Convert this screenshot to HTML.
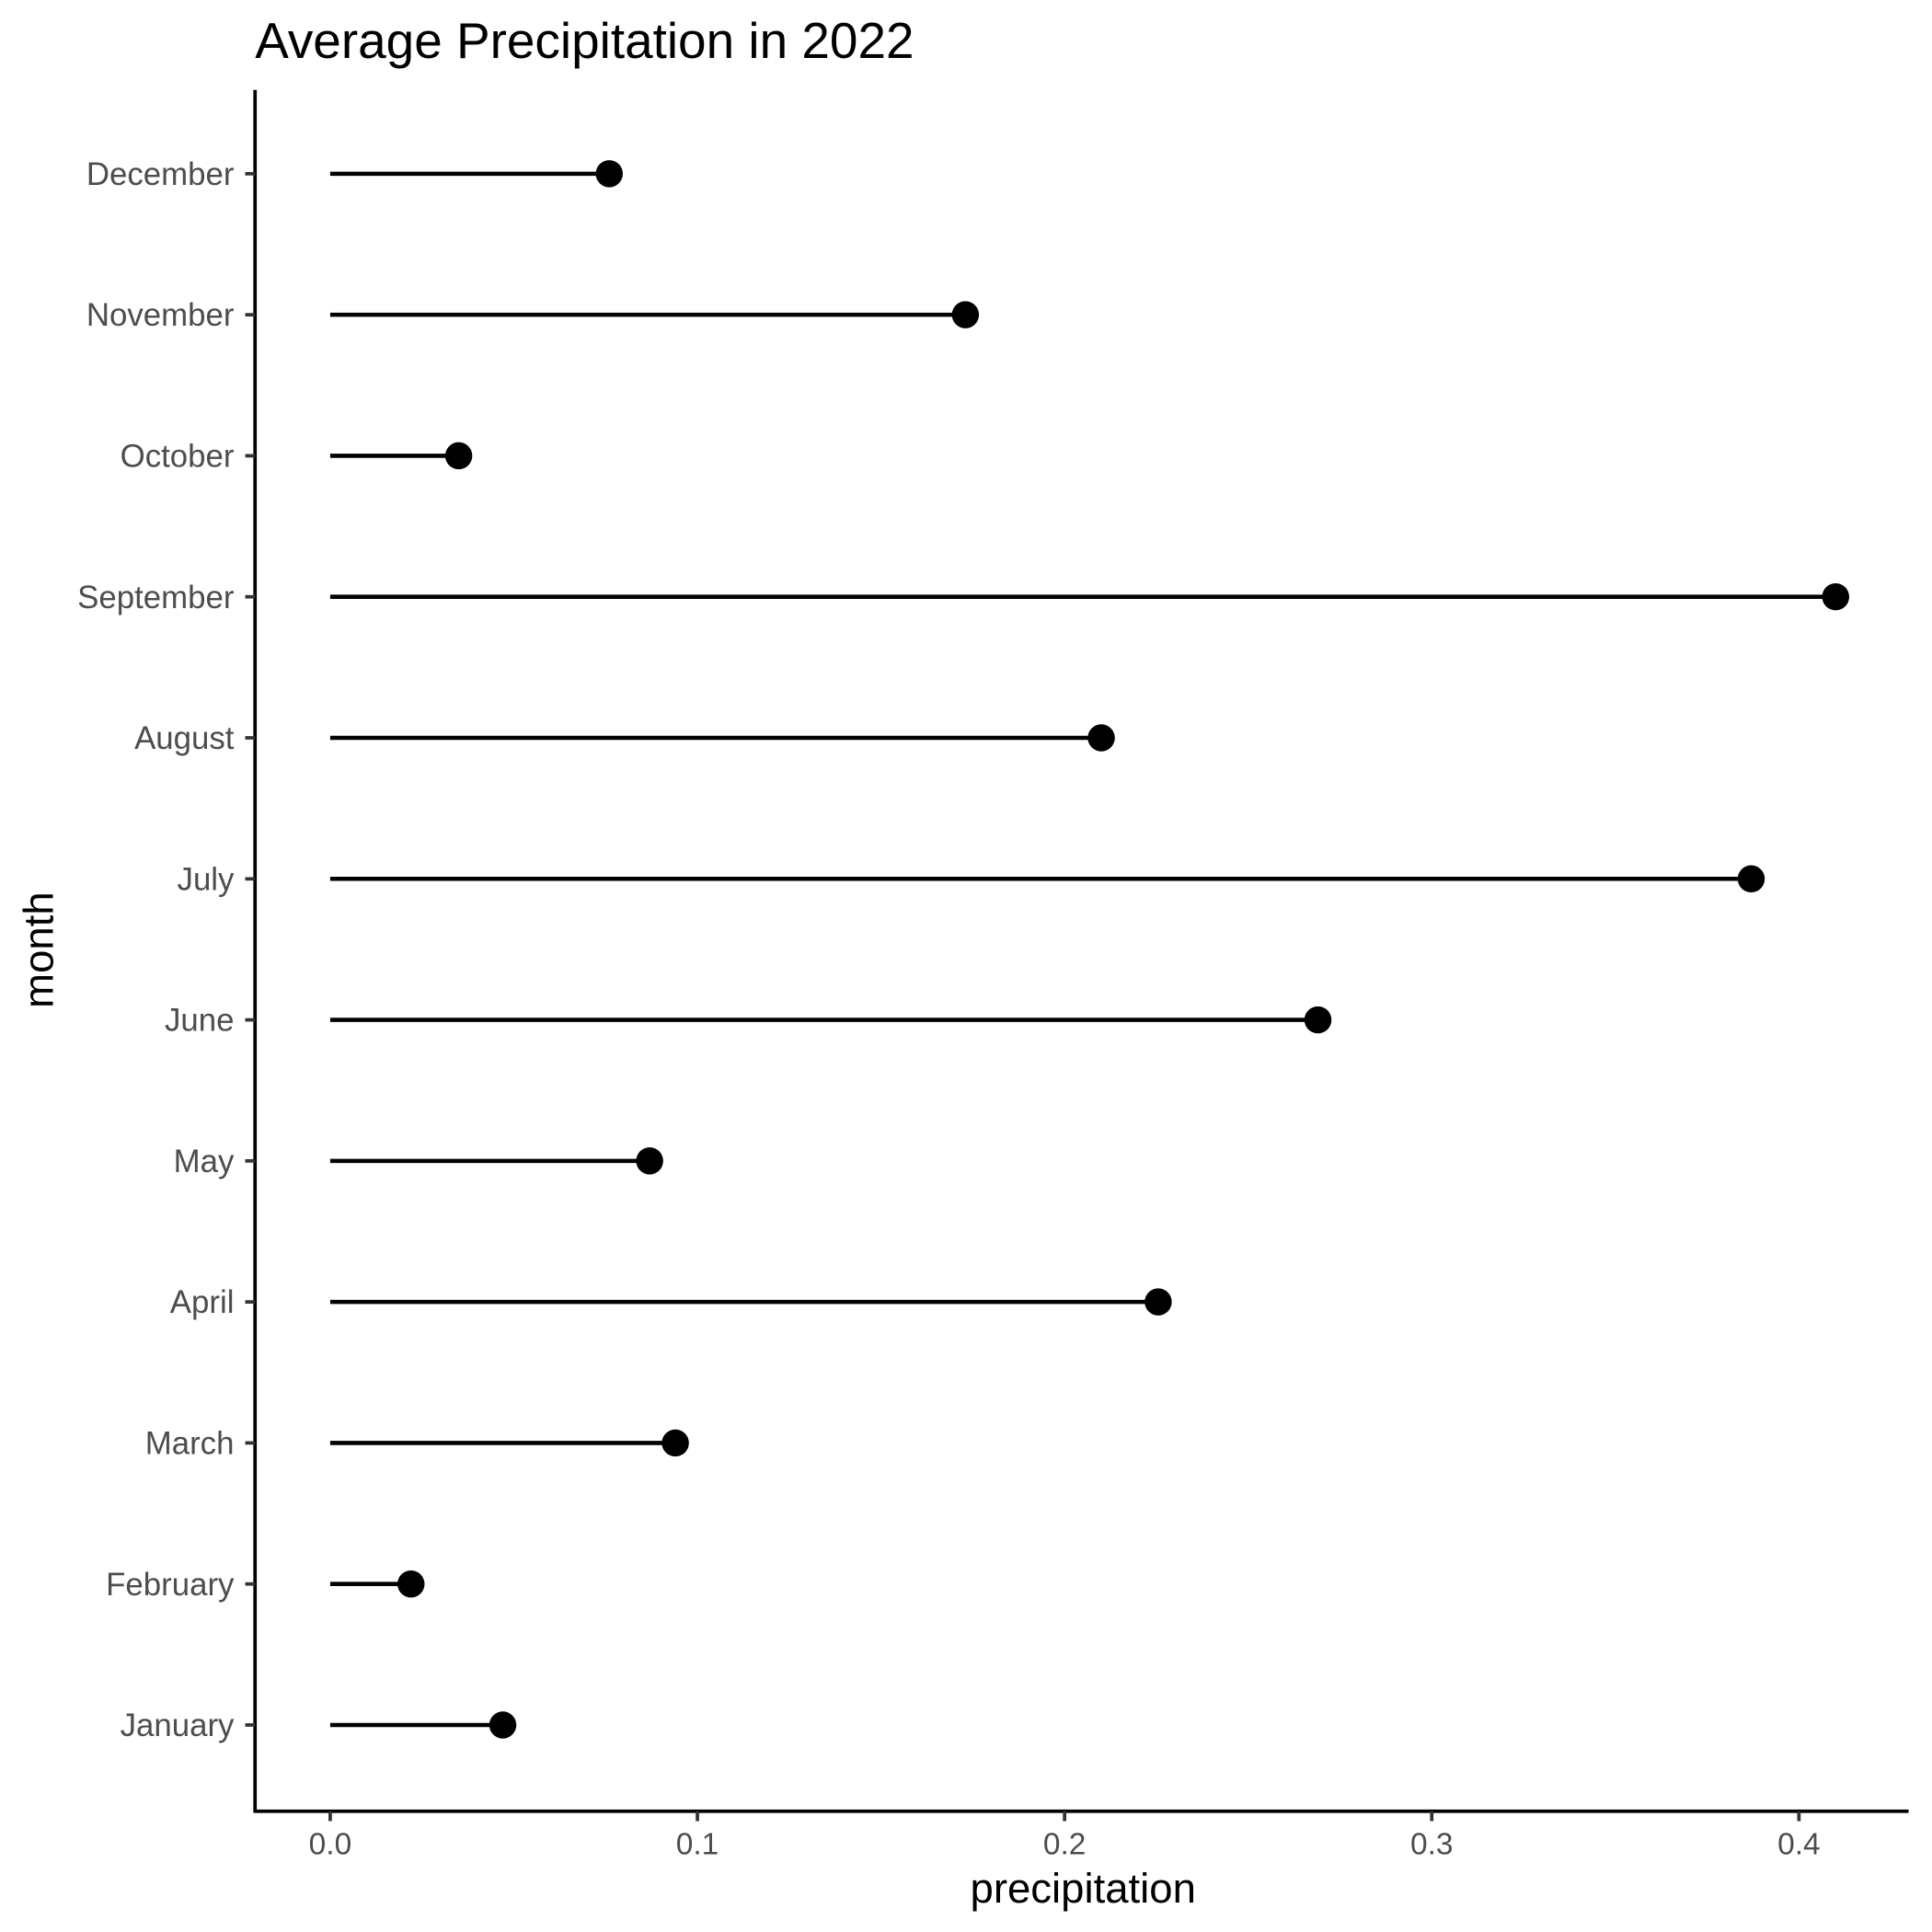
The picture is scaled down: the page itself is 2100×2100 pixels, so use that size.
<!DOCTYPE html>
<html><head><meta charset="utf-8"><style>
html,body{margin:0;padding:0;background:#fff;}
svg{display:block;font-family:"Liberation Sans",Arial,sans-serif;}
</style></head><body>
<svg id="chart" width="2100" height="2100" viewBox="0 0 1568 1568">
<rect width="1568" height="1568" fill="#fff"/>
<text x="207" y="47" font-size="41" fill="#000">Average Precipitation in 2022</text>
<line x1="207" y1="73" x2="207" y2="1471" stroke="#000" stroke-width="2.8"/>
<line x1="206" y1="1470" x2="1549" y2="1470" stroke="#000" stroke-width="2.8"/>
<text x="879" y="1544" font-size="34" text-anchor="middle" fill="#000">precipitation</text>
<text transform="translate(43,771) rotate(-90)" font-size="34" text-anchor="middle" fill="#000">month</text>
<g id="marks"></g>
</svg>
<script>
const months = ["January","February","March","April","May","June","July","August","September","October","November","December"];
const precip = [0.047,0.022,0.094,0.2255,0.087,0.269,0.387,0.210,0.410,0.035,0.173,0.076];
const xTicks = [0.0,0.1,0.2,0.3,0.4];
const xTickLabels = ["0.0","0.1","0.2","0.3","0.4"];

const NS="http://www.w3.org/2000/svg";
const g=document.getElementById("marks");
function xScale(v){return 268+v*2980;}
function yScale(i){return 1400-i*(1259/11);}
function mk(t,a){const e=document.createElementNS(NS,t);for(const k in a)e.setAttribute(k,a[k]);g.appendChild(e);return e;}

xTicks.forEach((v,i)=>{
  const x=xScale(v);
  const t=mk("line",{x1:x,y1:1470,x2:x,y2:1478,stroke:"#333","stroke-width":2.8});
  
  
  const l=mk("text",{x:x,y:1505,"font-size":25,"text-anchor":"middle",fill:"#4d4d4d"});
  l.textContent=xTickLabels[i];
  
  
});

months.forEach((m,i)=>{
  const y=yScale(i);
  const t=mk("line",{x1:199,y1:y,x2:207,y2:y,stroke:"#333","stroke-width":2.8});
  
  
  const l=mk("text",{x:190,y:y+9,"font-size":26,"text-anchor":"end",fill:"#4d4d4d"});
  l.textContent=m;
  
  
  const s=mk("line",{x1:xScale(0),y1:y,x2:xScale(precip[i]),y2:y,stroke:"#000","stroke-width":3.4});
  
  
  const c=mk("circle",{cx:xScale(precip[i]),cy:y,r:11,fill:"#000"});
  
  
});
</script>
</body></html>
